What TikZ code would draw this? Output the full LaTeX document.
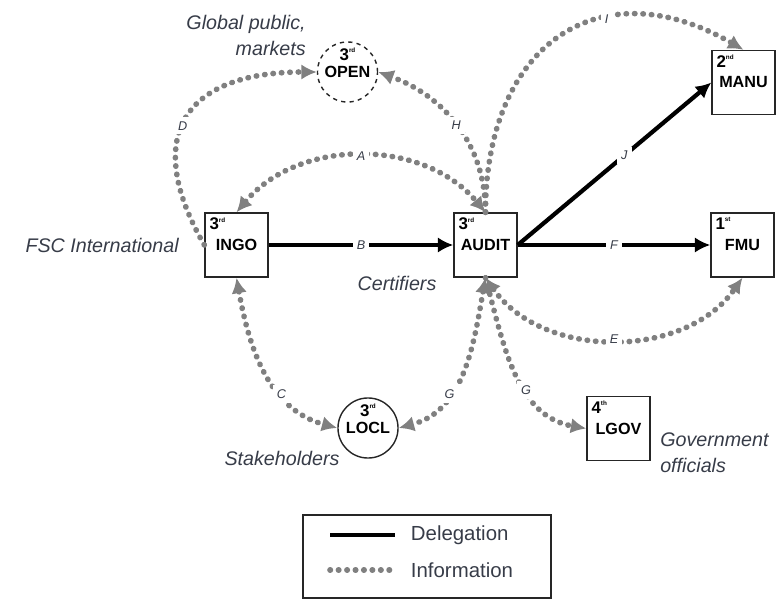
\documentclass[tikz,border=0pt]{standalone}
\usepackage{fontspec}
\setmainfont{Liberation Sans}
\usetikzlibrary{arrows.meta, positioning, shapes.geometric}

\definecolor{infogray}{RGB}{128,128,128}
\definecolor{labeltext}{RGB}{55,60,72}

\newcommand{\ordn}[2]{\textbf{#1}\raisebox{0.85ex}{\fontsize{4.5}{5}\selectfont\bfseries #2}}

\tikzset{
  actor/.style={draw=black!85, line width=1pt, minimum width=44.8pt, minimum height=45.5pt,
    inner sep=0pt, font=\fontsize{11.5}{12}\selectfont\bfseries},
  party/.style={actor, circle, minimum size=42.7pt},
  ordtag/.style={inner sep=3.5pt, font=\fontsize{12}{12}\selectfont},
  role/.style={font=\fontsize{14}{18.5}\selectfont\itshape, text=labeltext, inner sep=0pt},
  elbl/.style={fill=white, inner sep=3pt, font=\fontsize{9}{10}\selectfont\itshape, text=labeltext},
  deleg/.style={line width=3pt, >={Latex[length=11pt,width=11pt]}},
  info/.style={draw=infogray, line width=4pt, line cap=round, dash pattern=on 0.3pt off 5.7pt,
    >={Latex[length=11pt,width=11pt]}, fill=none},
}

\begin{document}
\begin{tikzpicture}[x=0.025cm, y=0.025cm]
    \useasboundingbox (0,0) rectangle (781,601);

    % Actors
    \node[actor, label={[ordtag, anchor=north west]north west:\ordn{3}{rd}}] (ingo) at (236.5,356) {INGO};
    \node[actor, label={[ordtag, anchor=north west]north west:\ordn{3}{rd}}] (audit) at (485.5,356) {AUDIT};
    \node[actor, label={[ordtag, anchor=north west]north west:\ordn{2}{nd}}] (manu) at (743.5,518.5) {MANU};
    \node[actor, label={[ordtag, anchor=north west]north west:\ordn{1}{st}}] (fmu) at (742.5,356) {FMU};
    \node[actor, label={[ordtag, anchor=north west]north west:\ordn{4}{th}}] (lgov) at (618.5,172.5) {LGOV};
    \node[party, dashed, label={[ordtag, anchor=north, yshift=-1pt]north:\ordn{3}{rd}}] (open) at (347.5,529) {OPEN};
    \node[party, label={[ordtag, anchor=north, yshift=-1pt]north:\ordn{3}{rd}}] (locl) at (368,173) {LOCL};

    % Role names
    \node[role, align=right, anchor=east] (globalTxt) at (306,566) {Global public,\\markets};
    \node[role, anchor=east] (fscTxt) at (179,356) {FSC International};
    \node[role] (certTxt) at (397,318) {Certifiers};
    \node[role] (stakeTxt) at (282,143) {Stakeholders};
    \node[role, align=left, anchor=west] (govTxt) at (660,148) {Government\\officials};

    % Delegation
    \draw[deleg, ->] (ingo) -- node[elbl] {B} (audit);
    \draw[deleg, ->] (audit) -- node[elbl] {F} (fmu);
    \draw[deleg, ->] (audit.east) -- node[elbl, pos=.55] {J} (manu.west);

    % Information
    \draw[info, <->] (ingo.north) to[out=50, in=130] node[elbl] {A} (audit.north);
    \draw[info, ->] (ingo.west) to[out=120, in=180, looseness=1.6] node[elbl, pos=.45] {D} (open.west);
    \draw[info, ->] (audit.north) to[out=90, in=-20] node[elbl] {H} (open.east);
    \draw[info, ->] (audit.north) to[out=90, in=150, looseness=1.4] node[elbl, pos=.65] {I} (manu.north);
    \draw[info, <->] (audit.south) to[out=-55, in=-125] node[elbl] {E} (fmu.south);
    \draw[info, <->] (ingo.south) to[out=-80, in=165] node[elbl, pos=.65] {C} (locl.west);
    \draw[info, <->] (audit.south) to[out=-100, in=15] node[elbl, pos=.65] {G} (locl.east);
    \draw[info, ->] (audit.south) to[out=-75, in=170] node[elbl, pos=.6] {G} (lgov.west);

    % Legend
    \node[draw=black!85, line width=0.8pt, minimum width=176.4pt, minimum height=59pt] (key) at (427,44.5) {};
    \coordinate (delA) at (330,66);
    \coordinate (delB) at (395,66);
    \coordinate (infA) at (330,31);
    \coordinate (infB) at (395,31);
    \draw[deleg] (delA) -- (delB);
    \draw[info] (infA) -- (infB);
    \node[anchor=west, font=\fontsize{14.5}{16}\selectfont, text=labeltext] (delTxt) at (406,66) {Delegation};
    \node[anchor=west, font=\fontsize{14.5}{16}\selectfont, text=labeltext] (infTxt) at (406,31) {Information};
\end{tikzpicture}
\end{document}
